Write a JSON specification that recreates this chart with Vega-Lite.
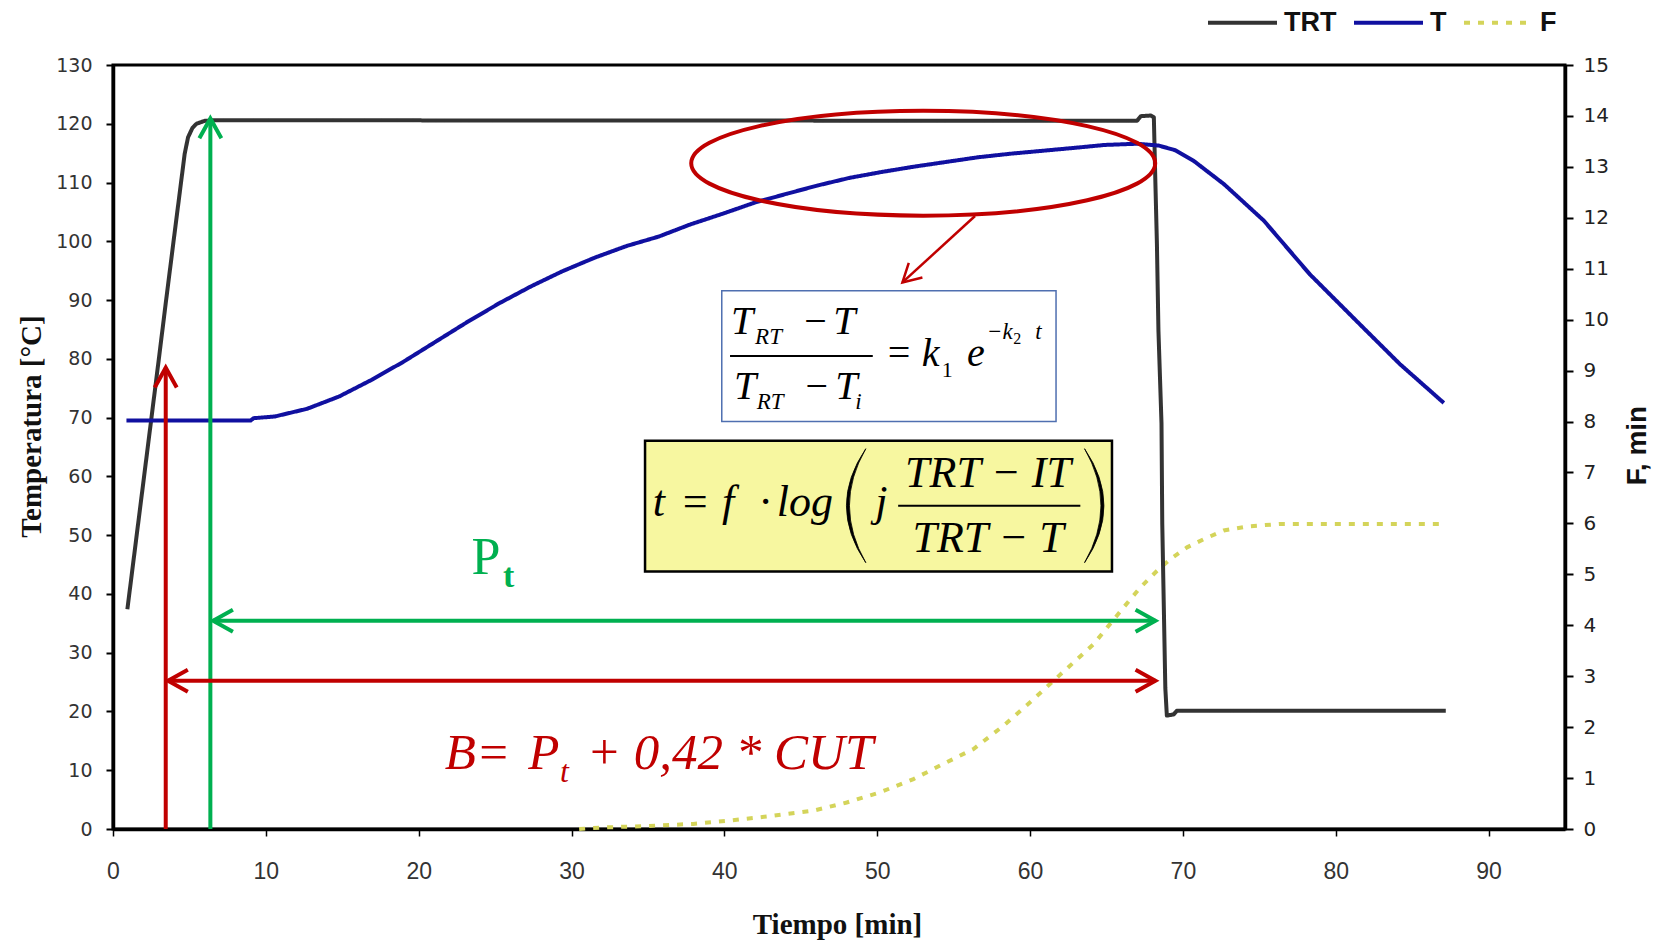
{
  "$schema": "https://vega.github.io/schema/vega-lite/v6.json",
  "width": 1452,
  "height": 764,
  "autosize": {"type": "none"},
  "padding": {"left": 113, "top": 65, "right": 101, "bottom": 112},
  "background": "#ffffff",
  "config": {
    "font": "Liberation Sans",
    "view": {"stroke": "#000000", "strokeWidth": 3},
    "axis": {"grid": false}
  },
  "datasets": {
    "temperatura": [
      {"t": 0.94, "valor": 37.4, "serie": "TRT"},
      {"t": 2.0, "valor": 59.3, "serie": "TRT"},
      {"t": 3.0, "valor": 80.0, "serie": "TRT"},
      {"t": 3.49, "valor": 90.3, "serie": "TRT"},
      {"t": 4.0, "valor": 100.8, "serie": "TRT"},
      {"t": 4.69, "valor": 114.9, "serie": "TRT"},
      {"t": 4.91, "valor": 117.7, "serie": "TRT"},
      {"t": 5.2, "valor": 119.3, "serie": "TRT"},
      {"t": 5.46, "valor": 120.0, "serie": "TRT"},
      {"t": 6.0, "valor": 120.5, "serie": "TRT"},
      {"t": 6.6, "valor": 120.6, "serie": "TRT"},
      {"t": 67.0, "valor": 120.5, "serie": "TRT"},
      {"t": 67.25, "valor": 121.3, "serie": "TRT"},
      {"t": 67.9, "valor": 121.4, "serie": "TRT"},
      {"t": 68.1, "valor": 121.1, "serie": "TRT"},
      {"t": 68.2, "valor": 110.0, "serie": "TRT"},
      {"t": 68.3, "valor": 99.6, "serie": "TRT"},
      {"t": 68.4, "valor": 84.8, "serie": "TRT"},
      {"t": 68.6, "valor": 69.0, "serie": "TRT"},
      {"t": 68.65, "valor": 52.0, "serie": "TRT"},
      {"t": 68.85, "valor": 24.0, "serie": "TRT"},
      {"t": 68.95, "valor": 19.3, "serie": "TRT"},
      {"t": 69.4, "valor": 19.5, "serie": "TRT"},
      {"t": 69.6, "valor": 20.1, "serie": "TRT"},
      {"t": 87.2, "valor": 20.1, "serie": "TRT"},
      {"t": 0.88, "valor": 69.5, "serie": "T"},
      {"t": 5.0, "valor": 69.5, "serie": "T"},
      {"t": 9.0, "valor": 69.5, "serie": "T"},
      {"t": 9.2, "valor": 69.9, "serie": "T"},
      {"t": 10.6, "valor": 70.2, "serie": "T"},
      {"t": 12.7, "valor": 71.5, "serie": "T"},
      {"t": 14.8, "valor": 73.6, "serie": "T"},
      {"t": 16.9, "valor": 76.4, "serie": "T"},
      {"t": 19.0, "valor": 79.5, "serie": "T"},
      {"t": 21.1, "valor": 82.9, "serie": "T"},
      {"t": 23.2, "valor": 86.3, "serie": "T"},
      {"t": 25.3, "valor": 89.5, "serie": "T"},
      {"t": 27.4, "valor": 92.4, "serie": "T"},
      {"t": 29.4, "valor": 94.9, "serie": "T"},
      {"t": 31.5, "valor": 97.2, "serie": "T"},
      {"t": 33.6, "valor": 99.2, "serie": "T"},
      {"t": 35.7, "valor": 100.8, "serie": "T"},
      {"t": 37.8, "valor": 102.9, "serie": "T"},
      {"t": 39.9, "valor": 104.7, "serie": "T"},
      {"t": 42.0, "valor": 106.6, "serie": "T"},
      {"t": 44.1, "valor": 108.1, "serie": "T"},
      {"t": 46.1, "valor": 109.5, "serie": "T"},
      {"t": 48.2, "valor": 110.8, "serie": "T"},
      {"t": 50.3, "valor": 111.8, "serie": "T"},
      {"t": 52.4, "valor": 112.7, "serie": "T"},
      {"t": 54.5, "valor": 113.5, "serie": "T"},
      {"t": 56.6, "valor": 114.3, "serie": "T"},
      {"t": 58.7, "valor": 114.9, "serie": "T"},
      {"t": 60.8, "valor": 115.4, "serie": "T"},
      {"t": 62.9, "valor": 115.9, "serie": "T"},
      {"t": 64.9, "valor": 116.4, "serie": "T"},
      {"t": 67.0, "valor": 116.6, "serie": "T"},
      {"t": 68.4, "valor": 116.3, "serie": "T"},
      {"t": 69.5, "valor": 115.5, "serie": "T"},
      {"t": 70.7, "valor": 113.7, "serie": "T"},
      {"t": 72.7, "valor": 109.7, "serie": "T"},
      {"t": 75.3, "valor": 103.5, "serie": "T"},
      {"t": 78.3, "valor": 94.4, "serie": "T"},
      {"t": 81.8, "valor": 85.3, "serie": "T"},
      {"t": 84.2, "valor": 79.1, "serie": "T"},
      {"t": 87.07, "valor": 72.5, "serie": "T"}
    ],
    "letalidad": [
      {"t": 30.5, "F": 0.0, "serie": "F"},
      {"t": 32.08, "F": 0.03, "serie": "F"},
      {"t": 35.0, "F": 0.06, "serie": "F"},
      {"t": 37.97, "F": 0.1, "serie": "F"},
      {"t": 40.16, "F": 0.16, "serie": "F"},
      {"t": 43.21, "F": 0.26, "serie": "F"},
      {"t": 45.83, "F": 0.36, "serie": "F"},
      {"t": 48.01, "F": 0.52, "serie": "F"},
      {"t": 50.19, "F": 0.72, "serie": "F"},
      {"t": 52.37, "F": 0.98, "serie": "F"},
      {"t": 54.34, "F": 1.28, "serie": "F"},
      {"t": 56.3, "F": 1.57, "serie": "F"},
      {"t": 58.27, "F": 2.03, "serie": "F"},
      {"t": 60.23, "F": 2.55, "serie": "F"},
      {"t": 62.3, "F": 3.12, "serie": "F"},
      {"t": 64.16, "F": 3.63, "serie": "F"},
      {"t": 66.12, "F": 4.35, "serie": "F"},
      {"t": 67.21, "F": 4.74, "serie": "F"},
      {"t": 68.31, "F": 5.07, "serie": "F"},
      {"t": 69.18, "F": 5.3, "serie": "F"},
      {"t": 70.27, "F": 5.53, "serie": "F"},
      {"t": 71.36, "F": 5.69, "serie": "F"},
      {"t": 72.67, "F": 5.86, "serie": "F"},
      {"t": 74.2, "F": 5.94, "serie": "F"},
      {"t": 76.38, "F": 5.99, "serie": "F"},
      {"t": 87.0, "F": 5.99, "serie": "F"}
    ]
  },
  "layer": [
    {
      "data": {"name": "letalidad"},
      "mark": {"type": "line", "strokeWidth": 4, "strokeCap": "butt"},
      "encoding": {
        "x": {"field": "t", "type": "quantitative", "scale": {"domain": [0, 95], "nice": false}},
        "y": {
          "field": "F", "type": "quantitative",
          "scale": {"domain": [0, 15], "nice": false},
          "axis": {
            "title": "F, min", "orient": "right",
            "values": [0, 1, 2, 3, 4, 5, 6, 7, 8, 9, 10, 11, 12, 13, 14, 15],
            "domainColor": "#000000", "domainWidth": 3.5,
            "tickColor": "#000000", "tickWidth": 2, "tickSize": 8,
            "labelFont": "DejaVu Sans", "labelFontSize": 20, "labelColor": "#222222", "labelPadding": 10,
            "titleFont": "Liberation Sans", "titleFontSize": 28, "titleFontWeight": "bold", "titleColor": "#111111",
            "titleX": 72, "titleY": 380, "titleAngle": 270, "titleAlign": "center", "titleBaseline": "middle",
            "grid": false
          }
        },
        "color": {
          "field": "serie", "type": "nominal",
          "scale": {"domain": ["TRT", "T", "F"], "range": ["#333333", "#1010a0", "#d4d45a"]},
          "legend": {"title": null, "orient": "none", "legendX": 1093, "legendY": -79, "direction": "horizontal", "symbolType": "stroke", "symbolSize": 4761, "symbolStrokeWidth": 4, "labelFont": "Liberation Sans", "labelFontSize": 27, "labelFontWeight": "bold", "labelColor": "#111111", "labelOffset": 5, "columnPadding": 9, "padding": 0}
        },
        "strokeDash": {
          "field": "serie", "type": "nominal",
          "scale": {"domain": ["TRT", "T", "F"], "range": [[1, 0], [1, 0], [6, 8]]},
          "legend": {"title": null, "orient": "none", "legendX": 1093, "legendY": -79, "direction": "horizontal", "symbolType": "stroke", "symbolSize": 4761, "symbolStrokeWidth": 4, "labelFont": "Liberation Sans", "labelFontSize": 27, "labelFontWeight": "bold", "labelColor": "#111111", "labelOffset": 5, "columnPadding": 9, "padding": 0}
        }
      }
    },
    {
      "layer": [
        {
          "data": {"name": "temperatura"},
          "mark": {"type": "line", "strokeWidth": 4, "strokeJoin": "round"},
          "encoding": {
            "x": {
              "field": "t", "type": "quantitative",
              "scale": {"domain": [0, 95], "nice": false},
              "axis": {
                "title": "Tiempo [min]", "orient": "bottom",
                "values": [0, 10, 20, 30, 40, 50, 60, 70, 80, 90],
                "domainColor": "#000000", "domainWidth": 3.5,
                "tickColor": "#000000", "tickWidth": 1.5, "tickSize": 7,
                "labelFont": "Liberation Sans", "labelFontSize": 23, "labelColor": "#333333", "labelPadding": 24,
                "labelFlush": false, "labelOverlap": false,
                "titleFont": "Liberation Serif", "titleFontSize": 29, "titleFontWeight": "bold", "titleColor": "#111111",
                "titleX": 724, "titleY": 95, "titleAlign": "center", "titleBaseline": "middle",
                "grid": false
              }
            },
            "y": {
              "field": "valor", "type": "quantitative",
              "scale": {"domain": [0, 130], "nice": false},
              "axis": {
                "title": "Temperatura [°C]", "orient": "left",
                "values": [0, 10, 20, 30, 40, 50, 60, 70, 80, 90, 100, 110, 120, 130],
                "domainColor": "#000000", "domainWidth": 3.5,
                "tickColor": "#000000", "tickWidth": 2, "tickSize": 7,
                "labelFont": "DejaVu Sans", "labelFontSize": 19, "labelColor": "#333333", "labelPadding": 14,
                "titleFont": "Liberation Serif", "titleFontSize": 29, "titleFontWeight": "bold", "titleColor": "#111111",
                "titleX": -82, "titleY": 361, "titleAngle": 270, "titleAlign": "center", "titleBaseline": "middle",
                "grid": false
              }
            },
            "color": {
              "field": "serie", "type": "nominal",
              "scale": {"domain": ["TRT", "T", "F"], "range": ["#333333", "#1010a0", "#d4d45a"]},
              "legend": {"title": null, "orient": "none", "legendX": 1093, "legendY": -79, "direction": "horizontal", "symbolType": "stroke", "symbolSize": 4761, "symbolStrokeWidth": 4, "labelFont": "Liberation Sans", "labelFontSize": 27, "labelFontWeight": "bold", "labelColor": "#111111", "labelOffset": 5, "columnPadding": 9, "padding": 0}
            },
            "strokeDash": {
              "field": "serie", "type": "nominal",
              "scale": {"domain": ["TRT", "T", "F"], "range": [[1, 0], [1, 0], [6, 8]]},
              "legend": {"title": null, "orient": "none", "legendX": 1093, "legendY": -79, "direction": "horizontal", "symbolType": "stroke", "symbolSize": 4761, "symbolStrokeWidth": 4, "labelFont": "Liberation Sans", "labelFontSize": 27, "labelFontWeight": "bold", "labelColor": "#111111", "labelOffset": 5, "columnPadding": 9, "padding": 0}
            }
          }
        },
        {
          "data": {"values": [{"x": 39.83, "x2": 61.7, "y": 91.59, "y2": 69.35}]},
          "mark": {"type": "rect", "fill": "#ffffff", "stroke": "#4f6fb0", "strokeWidth": 1.5},
          "encoding": {
            "x": {"field": "x", "type": "quantitative"},
            "x2": {"field": "x2"},
            "y": {"field": "y", "type": "quantitative"},
            "y2": {"field": "y2"}
          }
        },
        {
          "data": {"values": [{"x": 34.81, "x2": 65.36, "y": 66.07, "y2": 43.83}]},
          "mark": {"type": "rect", "fill": "#f7f7a0", "stroke": "#000000", "strokeWidth": 2.5},
          "encoding": {
            "x": {"field": "x", "type": "quantitative"},
            "x2": {"field": "x2"},
            "y": {"field": "y", "type": "quantitative"},
            "y2": {"field": "y2"}
          }
        },
        {
          "data": {"values": [{"x": 40.37, "x2": 49.71, "y": 80.48}, {"x": 51.37, "x2": 63.29, "y": 55.01}]},
          "mark": {"type": "rule", "color": "#000000", "strokeWidth": 2},
          "encoding": {
            "x": {"field": "x", "type": "quantitative"},
            "x2": {"field": "x2"},
            "y": {"field": "y", "type": "quantitative"}
          }
        },
        {
          "data": {"values": [{"x": 48.62, "y": 55.01}]},
          "mark": {"type": "point", "shape": "M 0.17 -1 Q -0.51 0 0.17 1 Q -0.404 0 0.17 -1 Z", "size": 12996, "filled": true, "fill": "#000000", "stroke": "#000000", "strokeWidth": 0.8, "opacity": 1},
          "encoding": {
            "x": {"field": "x", "type": "quantitative"},
            "y": {"field": "y", "type": "quantitative"}
          }
        },
        {
          "data": {"values": [{"x": 64.2, "y": 55.01}]},
          "mark": {"type": "point", "shape": "M -0.17 -1 Q 0.51 0 -0.17 1 Q 0.404 0 -0.17 -1 Z", "size": 12996, "filled": true, "fill": "#000000", "stroke": "#000000", "strokeWidth": 0.8, "opacity": 1},
          "encoding": {
            "x": {"field": "x", "type": "quantitative"},
            "y": {"field": "y", "type": "quantitative"}
          }
        },
        {
          "data": {"values": [
            {"x": 40.44, "y": 84.23, "texto": "T"},
            {"x": 45.07, "y": 84.23, "texto": "−"},
            {"x": 47.12, "y": 84.23, "texto": "T"},
            {"x": 40.63, "y": 73.17, "texto": "T"},
            {"x": 45.15, "y": 73.17, "texto": "−"},
            {"x": 47.25, "y": 73.17, "texto": "T"},
            {"x": 50.52, "y": 78.83, "texto": "="},
            {"x": 52.92, "y": 78.83, "texto": "k"},
            {"x": 55.87, "y": 78.83, "texto": "e"}
          ]},
          "mark": {"type": "text", "font": "Liberation Serif", "fontStyle": "italic", "fontSize": 40, "align": "left", "baseline": "alphabetic", "color": "#000000"},
          "encoding": {
            "x": {"field": "x", "type": "quantitative"},
            "y": {"field": "y", "type": "quantitative"},
            "text": {"field": "texto"}
          }
        },
        {
          "data": {"values": [
            {"x": 42.01, "y": 82.53, "texto": "RT"},
            {"x": 42.12, "y": 71.47, "texto": "RT"},
            {"x": 48.56, "y": 71.47, "texto": "i"},
            {"x": 57.18, "y": 83.38, "texto": "−k"},
            {"x": 60.34, "y": 83.38, "texto": "t"}
          ]},
          "mark": {"type": "text", "font": "Liberation Serif", "fontStyle": "italic", "fontSize": 23, "align": "left", "baseline": "alphabetic", "color": "#000000"},
          "encoding": {
            "x": {"field": "x", "type": "quantitative"},
            "y": {"field": "y", "type": "quantitative"},
            "text": {"field": "texto"}
          }
        },
        {
          "data": {"values": [{"x": 54.23, "y": 76.84, "texto": "1"}]},
          "mark": {"type": "text", "font": "Liberation Serif", "fontSize": 22, "align": "left", "baseline": "alphabetic", "color": "#000000"},
          "encoding": {
            "x": {"field": "x", "type": "quantitative"},
            "y": {"field": "y", "type": "quantitative"},
            "text": {"field": "texto"}
          }
        },
        {
          "data": {"values": [{"x": 58.9, "y": 82.53, "texto": "2"}]},
          "mark": {"type": "text", "font": "Liberation Serif", "fontSize": 16, "align": "left", "baseline": "alphabetic", "color": "#000000"},
          "encoding": {
            "x": {"field": "x", "type": "quantitative"},
            "y": {"field": "y", "type": "quantitative"},
            "text": {"field": "texto"}
          }
        },
        {
          "data": {"values": [
            {"x": 35.31, "y": 53.31, "texto": "t"},
            {"x": 37.1, "y": 53.31, "texto": "="},
            {"x": 39.85, "y": 53.31, "texto": "f"},
            {"x": 42.3, "y": 53.31, "texto": "·"},
            {"x": 43.43, "y": 53.31, "texto": "log"},
            {"x": 49.87, "y": 53.31, "texto": "j"}
          ]},
          "mark": {"type": "text", "font": "Liberation Serif", "fontStyle": "italic", "fontSize": 44, "align": "left", "baseline": "alphabetic", "color": "#000000"},
          "encoding": {
            "x": {"field": "x", "type": "quantitative"},
            "y": {"field": "y", "type": "quantitative"},
            "text": {"field": "texto"}
          }
        },
        {
          "data": {"values": [
            {"x": 57.25, "y": 58.13, "texto": "TRT − IT"},
            {"x": 57.25, "y": 47.07, "texto": "TRT − T"}
          ]},
          "mark": {"type": "text", "font": "Liberation Serif", "fontStyle": "italic", "fontSize": 44, "align": "center", "baseline": "alphabetic", "color": "#000000"},
          "encoding": {
            "x": {"field": "x", "type": "quantitative"},
            "y": {"field": "y", "type": "quantitative"},
            "text": {"field": "texto"}
          }
        },
        {
          "data": {"values": [{"x": 23.46, "y": 43.39, "texto": "P"}]},
          "mark": {"type": "text", "font": "Liberation Serif", "fontSize": 52, "align": "left", "baseline": "alphabetic", "color": "#00b050"},
          "encoding": {
            "x": {"field": "x", "type": "quantitative"},
            "y": {"field": "y", "type": "quantitative"},
            "text": {"field": "texto"}
          }
        },
        {
          "data": {"values": [{"x": 25.51, "y": 41.11, "texto": "t"}]},
          "mark": {"type": "text", "font": "Liberation Serif", "fontSize": 34, "fontWeight": "bold", "align": "left", "baseline": "alphabetic", "color": "#00b050"},
          "encoding": {
            "x": {"field": "x", "type": "quantitative"},
            "y": {"field": "y", "type": "quantitative"},
            "text": {"field": "texto"}
          }
        },
        {
          "data": {"values": [
            {"x": 21.71, "y": 10.21, "texto": "B="},
            {"x": 27.17, "y": 10.21, "texto": "P"},
            {"x": 30.99, "y": 10.21, "texto": "+ 0,42 * CUT"}
          ]},
          "mark": {"type": "text", "font": "Liberation Serif", "fontStyle": "italic", "fontSize": 51, "align": "left", "baseline": "alphabetic", "color": "#c00000"},
          "encoding": {
            "x": {"field": "x", "type": "quantitative"},
            "y": {"field": "y", "type": "quantitative"},
            "text": {"field": "texto"}
          }
        },
        {
          "data": {"values": [{"x": 29.24, "y": 7.93, "texto": "t"}]},
          "mark": {"type": "text", "font": "Liberation Serif", "fontStyle": "italic", "fontSize": 32, "align": "left", "baseline": "alphabetic", "color": "#c00000"},
          "encoding": {
            "x": {"field": "x", "type": "quantitative"},
            "y": {"field": "y", "type": "quantitative"},
            "text": {"field": "texto"}
          }
        },
        {
          "data": {"values": [
            {"x": 6.37, "x2": 6.37, "y": 0, "y2": 120.9},
            {"x": 6.55, "x2": 68.2, "y": 35.44, "y2": 35.44}
          ]},
          "mark": {"type": "rule", "color": "#00b050", "strokeWidth": 4, "strokeCap": "butt"},
          "encoding": {
            "x": {"field": "x", "type": "quantitative"},
            "x2": {"field": "x2"},
            "y": {"field": "y", "type": "quantitative"},
            "y2": {"field": "y2"}
          }
        },
        {
          "data": {"values": [
            {"x": 3.45, "x2": 3.45, "y": 0, "y2": 78.5},
            {"x": 3.6, "x2": 68.2, "y": 25.23, "y2": 25.23}
          ]},
          "mark": {"type": "rule", "color": "#c00000", "strokeWidth": 4, "strokeCap": "butt"},
          "encoding": {
            "x": {"field": "x", "type": "quantitative"},
            "x2": {"field": "x2"},
            "y": {"field": "y", "type": "quantitative"},
            "y2": {"field": "y2"}
          }
        },
        {
          "data": {"values": [{"x": 56.4, "x2": 51.65, "y": 104.3, "y2": 93.0}]},
          "mark": {"type": "rule", "color": "#c00000", "strokeWidth": 2.5, "strokeCap": "butt"},
          "encoding": {
            "x": {"field": "x", "type": "quantitative"},
            "x2": {"field": "x2"},
            "y": {"field": "y", "type": "quantitative"},
            "y2": {"field": "y2"}
          }
        },
        {
          "data": {"values": [{"x": 6.37, "y": 120.9}]},
          "mark": {"type": "point", "shape": "M -1 1.8 L 0 0 L 1 1.8", "size": 484, "filled": false, "stroke": "#00b050", "strokeWidth": 4, "opacity": 1, "angle": 0},
          "encoding": {
            "x": {"field": "x", "type": "quantitative"},
            "y": {"field": "y", "type": "quantitative"}
          }
        },
        {
          "data": {"values": [{"x": 6.55, "y": 35.44}]},
          "mark": {"type": "point", "shape": "M -1 1.8 L 0 0 L 1 1.8", "size": 484, "filled": false, "stroke": "#00b050", "strokeWidth": 4, "opacity": 1, "angle": 270},
          "encoding": {
            "x": {"field": "x", "type": "quantitative"},
            "y": {"field": "y", "type": "quantitative"}
          }
        },
        {
          "data": {"values": [{"x": 68.2, "y": 35.44}]},
          "mark": {"type": "point", "shape": "M -1 1.8 L 0 0 L 1 1.8", "size": 484, "filled": false, "stroke": "#00b050", "strokeWidth": 4, "opacity": 1, "angle": 90},
          "encoding": {
            "x": {"field": "x", "type": "quantitative"},
            "y": {"field": "y", "type": "quantitative"}
          }
        },
        {
          "data": {"values": [{"x": 3.45, "y": 78.5}]},
          "mark": {"type": "point", "shape": "M -1 1.8 L 0 0 L 1 1.8", "size": 484, "filled": false, "stroke": "#c00000", "strokeWidth": 4, "opacity": 1, "angle": 0},
          "encoding": {
            "x": {"field": "x", "type": "quantitative"},
            "y": {"field": "y", "type": "quantitative"}
          }
        },
        {
          "data": {"values": [{"x": 3.6, "y": 25.23}]},
          "mark": {"type": "point", "shape": "M -1 1.8 L 0 0 L 1 1.8", "size": 484, "filled": false, "stroke": "#c00000", "strokeWidth": 4, "opacity": 1, "angle": 270},
          "encoding": {
            "x": {"field": "x", "type": "quantitative"},
            "y": {"field": "y", "type": "quantitative"}
          }
        },
        {
          "data": {"values": [{"x": 68.2, "y": 25.23}]},
          "mark": {"type": "point", "shape": "M -1 1.8 L 0 0 L 1 1.8", "size": 484, "filled": false, "stroke": "#c00000", "strokeWidth": 4, "opacity": 1, "angle": 90},
          "encoding": {
            "x": {"field": "x", "type": "quantitative"},
            "y": {"field": "y", "type": "quantitative"}
          }
        },
        {
          "data": {"values": [{"x": 51.65, "y": 93.0}]},
          "mark": {"type": "point", "shape": "M -1 1.8 L 0 0 L 1 1.8", "size": 400, "filled": false, "stroke": "#c00000", "strokeWidth": 2.5, "opacity": 1, "angle": 227},
          "encoding": {
            "x": {"field": "x", "type": "quantitative"},
            "y": {"field": "y", "type": "quantitative"}
          }
        },
        {
          "data": {"values": [{"x": 53.01, "y": 113.29}]},
          "mark": {"type": "point", "shape": "M -1 0 A 1 0.226 0 1 0 1 0 A 1 0.226 0 1 0 -1 0 Z", "size": 215296, "filled": false, "stroke": "#c00000", "strokeWidth": 4, "opacity": 1},
          "encoding": {
            "x": {"field": "x", "type": "quantitative"},
            "y": {"field": "y", "type": "quantitative"}
          }
        }
      ]
    }
  ],
  "resolve": {"scale": {"y": "independent"}}
}
